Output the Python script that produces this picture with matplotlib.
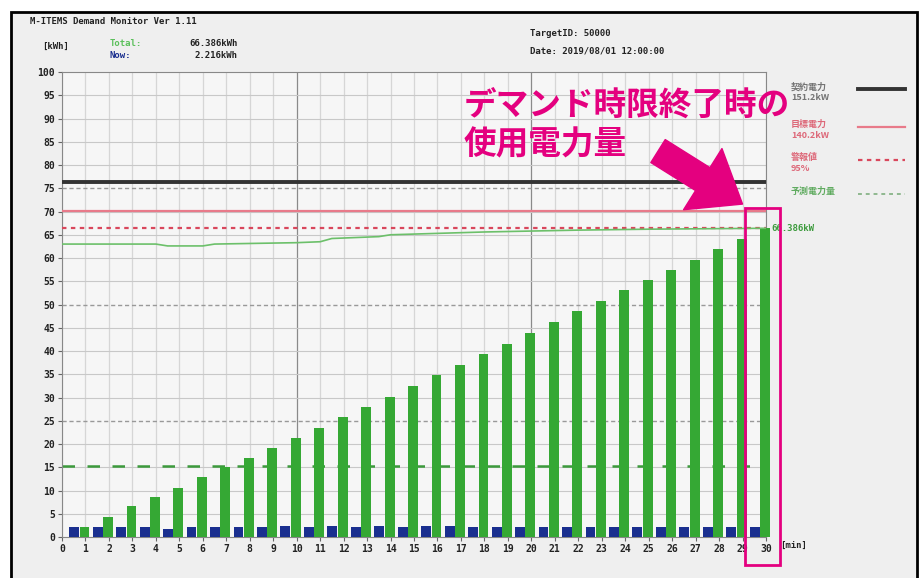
import numpy as np
import matplotlib.pyplot as plt
from matplotlib.patches import Rectangle
from matplotlib.lines import Line2D

# --- data ---
minutes = np.arange(0, 31)
now_kwh = [2.2, 2.2, 2.2, 2.2, 1.8, 2.2, 2.2, 2.2, 2.2, 2.4,
           2.2, 2.4, 2.2, 2.4, 2.2, 2.4, 2.4, 2.2, 2.2, 2.2,
           2.2, 2.2, 2.2, 2.2, 2.2, 2.2, 2.2, 2.2, 2.2, 2.2]
total_kwh = [2.2, 4.3, 6.6, 8.6, 10.6, 12.8, 15.0, 17.0, 19.1, 21.3,
             23.4, 25.8, 27.9, 30.2, 32.4, 34.8, 37.0, 39.3, 41.5, 43.9,
             46.3, 48.5, 50.8, 53.1, 55.3, 57.4, 59.6, 61.9, 64.1, 66.4]
pred_x = [0, 4, 4.5, 6, 6.5, 10, 11, 11.5, 13.5, 14, 16, 18, 20, 22, 25, 30]
pred_y = [63.0, 63.0, 62.6, 62.6, 63.0, 63.3, 63.5, 64.2, 64.6, 65.0,
          65.3, 65.6, 65.8, 66.0, 66.2, 66.4]
contract = 76.3
target = 70.1
alarm = 66.4
per_minute = 15.3
labels = ["契約電力\n151.2kW", "目標電力\n140.2kW", "警報値\n95%", "予測電力量"]

pink = "#e4007f"
green = "#35a834"
blue = "#1a2f8f"

fig = plt.figure(figsize=(9.2, 5.78), dpi=100, facecolor="white")
fig.patches.append(Rectangle((0.012, -0.01), 0.985, 0.99, transform=fig.transFigure,
                             facecolor="#efefef", edgecolor="black", lw=2, zorder=-5))
ax = fig.add_axes([0.0674, 0.0709, 0.7652, 0.8045])
ax.set_facecolor("#f6f6f6")

ax.set_xlim(0, 30)
ax.set_ylim(0, 100)

# grid
for v in range(0, 31):
    c = "#8a8a8a" if v in (10, 20) else "#d6d6d6"
    ax.axvline(v, color=c, lw=0.9, zorder=1)
for v in range(5, 100, 5):
    if v in (25, 50, 75):
        ax.axhline(v, color="#999999", lw=1.0, ls=(0, (3, 2)), zorder=1)
    else:
        ax.axhline(v, color="#c8c8c8", lw=0.8, zorder=1)

i = np.arange(len(total_kwh))
ax.bar(i + 0.52, now_kwh, width=0.42, color=blue, zorder=3, clip_on=False)
ax.bar(i + 0.96, total_kwh, width=0.42, color=green, zorder=3, clip_on=False)

styles = [dict(color="#333333", lw=2.8),
          dict(color="#e87a8a", lw=1.6),
          dict(color="#d9475c", lw=1.6, ls=(0, (2, 2))),
          dict(color="#6cc06a", lw=1.2)]
ax.plot([0, 30], [contract, contract], zorder=4, **styles[0])
ax.plot([0, 30], [target, target], zorder=4, **styles[1])
ax.plot([0, 30], [alarm, alarm], zorder=4, **styles[2])
ax.plot(pred_x, pred_y, zorder=4, **styles[3])
ax.axhline(per_minute, color="#3c9a3c", lw=1.8, ls=(0, (5, 5)), zorder=2)

# legend on the right: text left, key line right
key_styles = [styles[0], styles[1], styles[2],
              dict(color="#8fb88f", lw=1.4, ls=(0, (2, 2)))]
rows_y = [89, 127, 160, 194]
for lab, st, y, c in zip(labels, key_styles, rows_y,
                         ["#555555", "#d9475c", "#d9475c", "#3c9a3c"]):
    fig.text(791 / 920, 1 - (y - 7) / 578, lab, color=c, alpha=0.8, fontsize=6.5,
             weight="bold", family=["Noto Sans CJK JP", "DejaVu Sans"], va="top",
             linespacing=1.25)
    fig.lines.append(Line2D([858 / 920, 905 / 920], [1 - y / 578, 1 - y / 578],
                            transform=fig.transFigure, **st))

ax.text(30.25, 66.4, "66.386kW", color="#3c9a3c", fontsize=6.5, weight="bold",
        family="DejaVu Sans Mono", va="center", clip_on=False)

# ticks
ax.set_xticks(minutes)
ax.set_yticks(np.arange(0, 101, 5))
ax.tick_params(labelsize=7, length=3, color="#666666", pad=2)
for lab in ax.get_xticklabels() + ax.get_yticklabels():
    lab.set_family("DejaVu Sans Mono")
    lab.set_weight("bold")
    lab.set_color("#222222")
for s in ax.spines.values():
    s.set_color("#888888")
ax.text(30.6, -1.9, "[min]", fontsize=6.5, weight="bold", family="DejaVu Sans Mono",
        va="center", clip_on=False, color="#222222")

# header
mono = dict(family="DejaVu Sans Mono", weight="bold", fontsize=6.5, color="#222222")
fig.text(30 / 920, 1 - 21 / 578, "M-ITEMS Demand Monitor Ver 1.11", va="center", **mono)
fig.text(42 / 920, 1 - 46 / 578, "[kWh]", va="center", **mono)
fig.text(110 / 920, 1 - 44 / 578, "Total:", va="center",
         **{**mono, "color": "#5cc05c"})
fig.text(110 / 920, 1 - 56 / 578, "Now:", va="center",
         **{**mono, "color": "#1a2f8f"})
fig.text(238 / 920, 1 - 44 / 578, "66.386kWh", va="center", ha="right", **mono)
fig.text(238 / 920, 1 - 56 / 578, "2.216kWh", va="center", ha="right", **mono)
fig.text(530 / 920, 1 - 34 / 578, "TargetID: 50000", va="center", **mono)
fig.text(530 / 920, 1 - 51 / 578, "Date: 2019/08/01 12:00:00", va="center", **mono)

# callout
fig.text(464 / 920, 1 - 90 / 578, "デマンド時限終了時の\n使用電力量", color=pink,
         fontsize=23.5, weight="bold", family=["Noto Sans CJK JP", "DejaVu Sans"],
         va="top", linespacing=1.2, zorder=7)
ax.annotate("", xy=(29.0, 71.6), xytext=(25.4, 83.0),
            arrowprops=dict(arrowstyle="simple,head_length=1.3,head_width=2.0,tail_width=0.75",
                            color=pink, mutation_scale=26, shrinkA=0, shrinkB=0),
            annotation_clip=False, zorder=6)
ax.add_patch(Rectangle((29.1, -6.0), 1.5, 76.8, fill=False, edgecolor=pink, lw=2,
                       clip_on=False, zorder=6))

fig.savefig("out.png", dpi=100, facecolor=fig.get_facecolor())
